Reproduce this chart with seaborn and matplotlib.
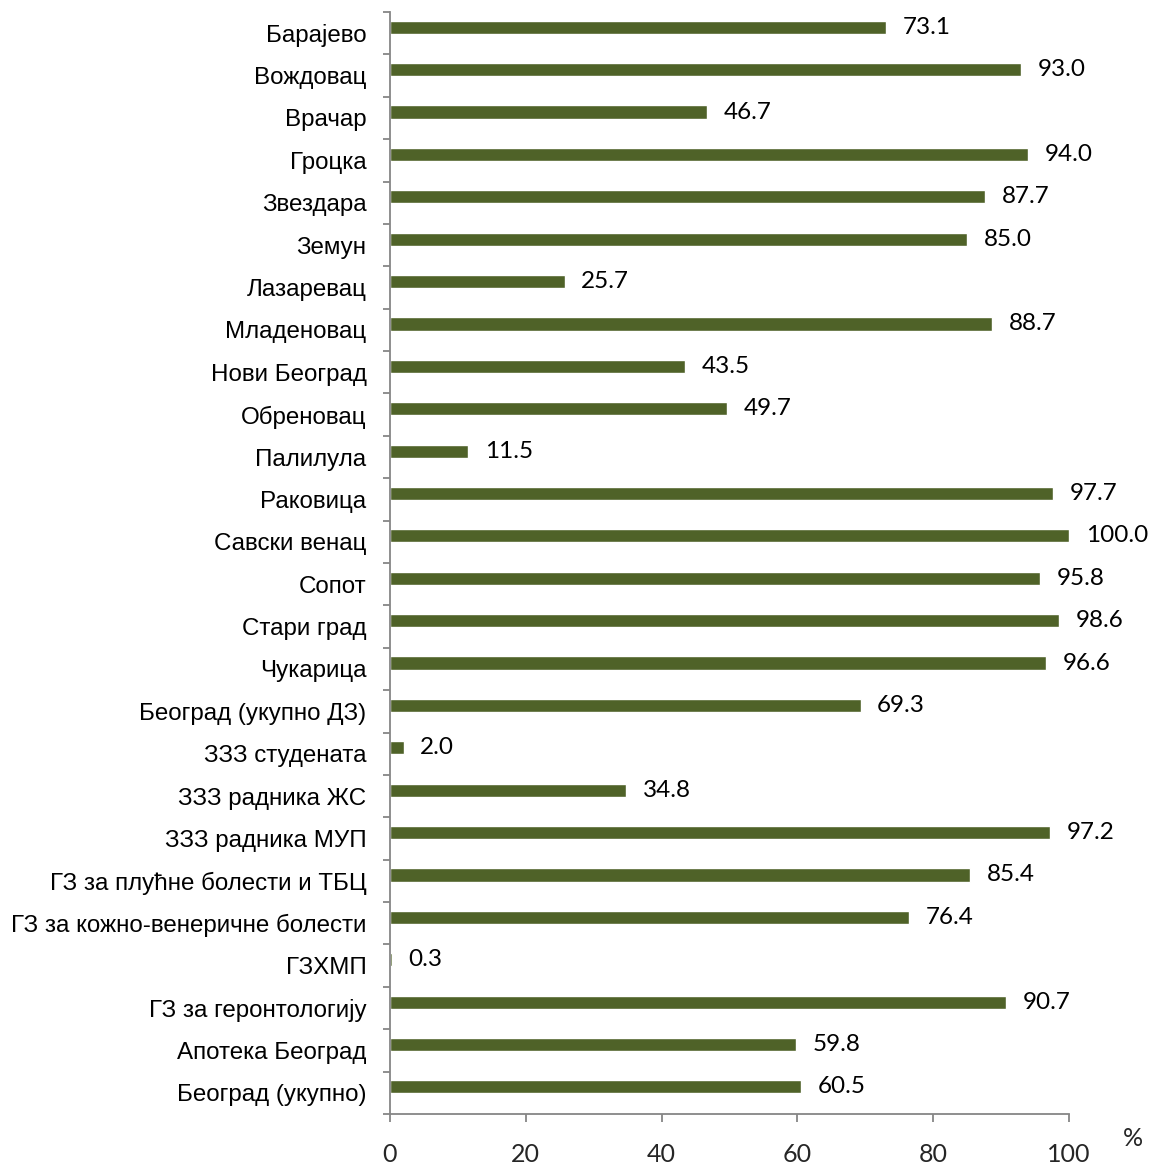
import matplotlib
matplotlib.use("Agg")
import matplotlib.pyplot as plt
import matplotlib.transforms as mtrans
import seaborn as sns
import pandas as pd
import numpy as np

categories = ["Барајево", "Вождовац", "Врачар", "Гроцка", "Звездара", "Земун",
              "Лазаревац", "Младеновац", "Нови Београд", "Обреновац", "Палилула",
              "Раковица", "Савски венац", "Сопот", "Стари град", "Чукарица",
              "Београд (укупно ДЗ)", "ЗЗЗ студената", "ЗЗЗ радника ЖС",
              "ЗЗЗ радника МУП", "ГЗ за плућне болести и ТБЦ",
              "ГЗ за кожно-венеричне болести", "ГЗХМП", "ГЗ за геронтологију",
              "Апотека Београд", "Београд (укупно)"]
values = [73.1, 93.0, 46.7, 94.0, 87.7, 85.0, 25.7, 88.7, 43.5, 49.7, 11.5,
          97.7, 100.0, 95.8, 98.6, 96.6, 69.3, 2.0, 34.8, 97.2, 85.4, 76.4,
          0.3, 90.7, 59.8, 60.5]
xticks = [0, 20, 40, 60, 80, 100]

df = pd.DataFrame({"cat": categories, "val": values})

sns.set_theme(style="white")
plt.rcParams['font.family'] = ['Liberation Sans', 'DejaVu Sans']

fig = plt.figure(figsize=(11.49, 11.67), dpi=100)
ax = fig.add_axes([390/1149, 1 - 1114/1167, 679/1149, 1102/1167])

sns.barplot(data=df, y="cat", x="val", orient="h", color="#4F6228",
            saturation=1, width=0.31, ax=ax)

n = len(categories)
off = 0.14
ax.set_ylim(n - 0.5 + off, -0.5 + off)
ax.set_xlim(0, 100)

# category labels centred in their slots
ax.set_yticks(np.arange(n) + off)
ax.set_yticklabels(categories, fontsize=17.4, color="black")
ax.set_yticks(np.arange(n + 1) - 0.5 + off, minor=True)
ax.tick_params(axis="y", which="major", length=0, pad=17)
ax.tick_params(axis="y", which="minor", length=5, width=1.3, color="#868686", left=True)

ax.set_xticks(xticks)
ax.set_xticklabels([str(t) for t in xticks], fontsize=18, family=["Lato", "DejaVu Sans"])
ax.tick_params(axis="x", which="major", length=6, width=1.3, color="#868686",
               bottom=True, pad=15)

for side in ["top", "right"]:
    ax.spines[side].set_visible(False)
for side in ["left", "bottom"]:
    ax.spines[side].set_color("#868686")
    ax.spines[side].set_linewidth(1.3)

ax.set_xlabel("")
ax.set_ylabel("")

# value labels, nudged slightly down
shift = mtrans.ScaledTranslation(0, -2/100, fig.dpi_scale_trans)
for cont in ax.containers:
    texts = ax.bar_label(cont, labels=[f"{v:.1f}" for v in values], padding=12,
                         fontsize=17.5, family=["Lato", "DejaVu Sans"], color="black")
    for t in texts:
        t.set_transform(t.get_transform() + shift)

ax.text(1.094, -0.022, "%", transform=ax.transAxes, fontsize=18,
        family=["Lato", "DejaVu Sans"], ha="center", va="center")

fig.savefig("out.png", dpi=100)
